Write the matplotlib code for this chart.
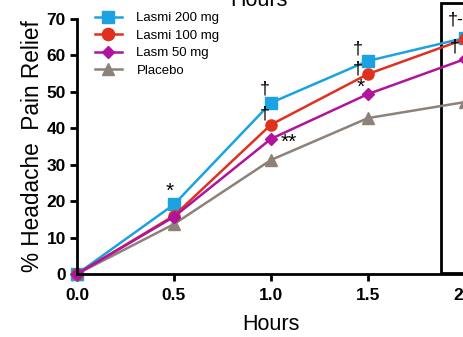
import matplotlib.pyplot as plt
from matplotlib.patches import Rectangle

plt.rcParams['font.family'] = ['Liberation Sans', 'DejaVu Sans']

hours = [0.0, 0.5, 1.0, 1.5, 2.0]
lasmi_200 = [0, 19.1, 47.0, 58.5, 64.8]
lasmi_100 = [0, 16.0, 41.0, 54.9, 64.5]
lasm_50 = [0, 15.7, 37.1, 49.4, 59.0]
placebo = [0, 13.7, 31.3, 42.8, 47.2]

series = [
    ('Lasmi 200 mg', lasmi_200, '#1aa3e0', 's', 8),
    ('Lasmi 100 mg', lasmi_100, '#e0301e', 'o', 8),
    ('Lasm 50 mg', lasm_50, '#b0139c', 'D', 6),
    ('Placebo', placebo, '#8c8279', '^', 8),
]

# significance marks: (x, y, text, size)
marks = [
    (0.48, 20.0, '*', 15),
    (0.97, 48.5, '†', 13),
    (0.97, 41.5, '†', 13),
    (1.09, 33.5, '**', 15),
    (1.45, 59.5, '†', 13),
    (1.45, 54.0, '†', 13),
    (1.46, 48.5, '*', 15),
    (1.95, 67.5, '†-', 13),
    (1.95, 60.0, '†', 13),
]

fig = plt.figure(figsize=(4.63, 3.37), dpi=100)
ax = fig.add_axes([77 / 463, 63 / 337, 388 / 463, 255 / 337])

handles = []
for label, vals, color, marker, ms in series:
    h, = ax.plot(hours, vals, color=color, marker=marker, markersize=ms,
                 linewidth=1.8, label=label, clip_on=False)
    handles.append(h)
handles[3].set_zorder(1.5)

for x, y, t, fs in marks:
    ax.text(x, y, t, fontsize=fs, ha='center', va='bottom')

ax.set_xlim(0, 2.0)
ax.set_ylim(0, 70)
ax.set_xticks([0.0, 0.5, 1.0, 1.5, 2.0])
ax.set_xticklabels(['0.0', '0.5', '1.0', '1.5', '2.0'])
ax.set_yticks(range(0, 71, 10))
for lbl in ax.get_xticklabels() + ax.get_yticklabels():
    lbl.set_fontweight('bold')
ax.tick_params(labelsize=12.5, width=2, length=5, direction='out', pad=3)
ax.tick_params(axis='x', pad=5)
for s in ['top', 'right']:
    ax.spines[s].set_visible(False)
for s in ['left', 'bottom']:
    ax.spines[s].set_linewidth(2)

ax.set_xlabel('Hours', fontsize=15.5, labelpad=8)
ax.set_ylabel('% Headache  Pain Relief', fontsize=16.3, labelpad=2)

# box around the 2 h time point
ax.add_patch(Rectangle((1.878, 0.3), 0.4, 74.0, fill=False, linewidth=2,
                       edgecolor='black', clip_on=False))

# x label of the panel above, cut by the crop
fig.text(259 / 463, 1 - 6 / 337, 'Hours', fontsize=15.5, ha='center', va='baseline')

ax.legend(handles=handles, loc='upper left', bbox_to_anchor=(0.046, 1.027),
          frameon=False, fontsize=9.5, handlelength=2.05, labelspacing=0.4,
          handletextpad=1.1, borderaxespad=0, borderpad=0, markerscale=1.1)

fig.savefig('out.png', dpi=100)
